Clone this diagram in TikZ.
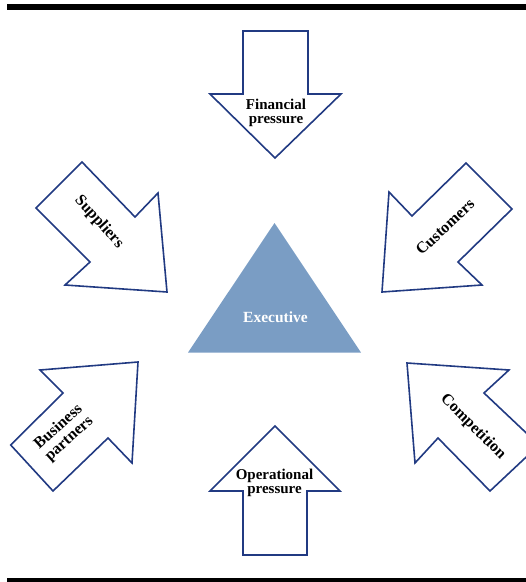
\documentclass[tikz,border=0pt]{standalone}
\usepackage{fontspec}
\setmainfont{Liberation Serif}
\definecolor{arrowblue}{RGB}{33,58,130}
\definecolor{execblue}{RGB}{122,157,196}
\tikzset{
  bigarrow/.style={draw=arrowblue, line width=1.6pt, fill=white, line join=miter},
  lbl/.style={font=\bfseries\fontsize{15}{14}\selectfont, align=center, inner sep=0pt, text=black},
  rlbl/.style={lbl, font=\bfseries\fontsize{16}{16}\selectfont},
  bar/.style={fill=black, draw=none}
}
\begin{document}
\begin{tikzpicture}[x=1pt, y=-1pt]
\useasboundingbox (0,0) rectangle (526,582);
\clip (0,0) rectangle (526,582);
% bars
\fill[bar] (7,4) rectangle (526,10);
\fill[bar] (7,578) rectangle (526,584);
% triangle
\fill[execblue] (274.5,223) -- (361,352.5) -- (188,352.5) -- cycle;
\node[lbl, text=white, font=\bfseries\fontsize{15.5}{16}\selectfont, anchor=base] (exec) at (275.5,322.5) {Executive};
% financial pressure (down)
\draw[bigarrow] (243,31) -- (308,31) -- (308,94) -- (341,94) -- (275,158) -- (210,94) -- (243,94) -- cycle;
\node[lbl] (fin) at (276,112.8) {Financial\\pressure};
% operational pressure (up)
\draw[bigarrow] (275,426) -- (340,491) -- (307,491) -- (307,555) -- (243,555) -- (243,491) -- (210,491) -- cycle;
\node[lbl] (ops) at (274.5,483) {Operational\\pressure};
% suppliers
\draw[bigarrow] (82,162) -- (36,208) -- (90,262) -- (65,285) -- (167,292) -- (158,193) -- (135,217) -- cycle;
\node[rlbl, rotate=-48] (sup) at (99,222) {Suppliers};
% customers
\draw[bigarrow] (466,163) -- (512,209) -- (458,262) -- (482,285) -- (382,292) -- (389,192) -- (412,216) -- cycle;
\node[rlbl, rotate=43] (cus) at (445,227) {Customers};
% business partners
\draw[bigarrow] (138,362) -- (132,463) -- (108,438) -- (53,491) -- (10.7,445) -- (63,393) -- (40,370) -- cycle;
\node[rlbl, rotate=42] (bus) at (64,433) {Business\\partners};
% competition
\draw[bigarrow] (407,363) -- (509,370) -- (484,393) -- (539,445) -- (490,491) -- (438,438) -- (415,463) -- cycle;
\node[rlbl, rotate=-45] (com) at (473,427) {Competition};
\end{tikzpicture}
\end{document}
